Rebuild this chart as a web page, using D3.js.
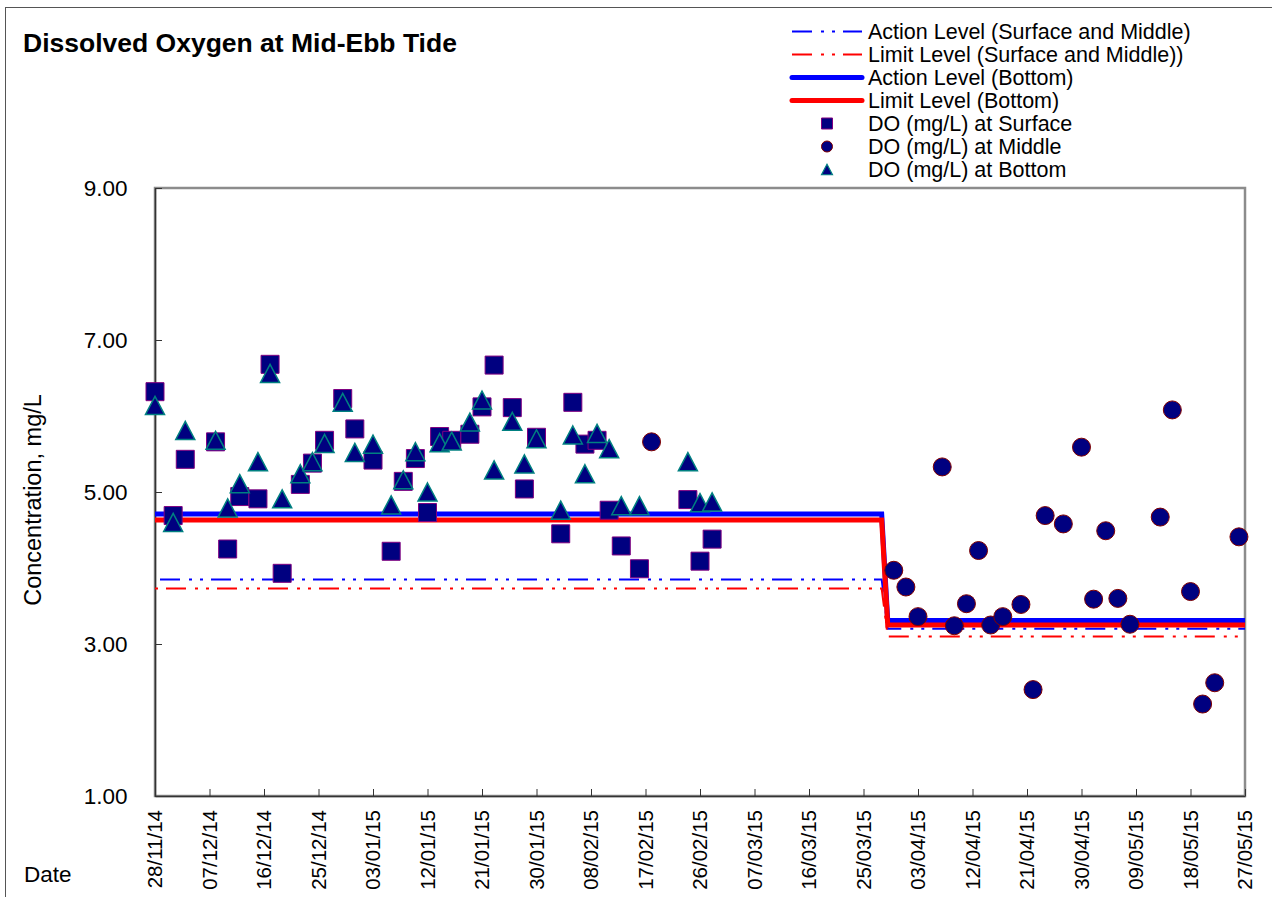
<!DOCTYPE html>
<html>
<head>
<meta charset="utf-8">
<script src="https://cdn.jsdelivr.net/npm/d3@7"></script>
<style>
  html, body { margin: 0; padding: 0; background: #fff; }
  svg { display: block; font-family: "Liberation Sans", Arial, sans-serif; }
</style>
</head>
<body>
<svg id="chart" width="1272" height="897"></svg>
<script>
// ---------------- DATA ----------------
const sbDates = ["2014-11-28","2014-12-01","2014-12-03","2014-12-08","2014-12-10","2014-12-12","2014-12-15","2014-12-17","2014-12-19","2014-12-22","2014-12-24","2014-12-26","2014-12-29","2014-12-31","2015-01-03","2015-01-06","2015-01-08","2015-01-10","2015-01-12","2015-01-14","2015-01-16","2015-01-19","2015-01-21","2015-01-23","2015-01-26","2015-01-28","2015-01-30","2015-02-03","2015-02-05","2015-02-07","2015-02-09","2015-02-11","2015-02-13","2015-02-16","2015-02-24","2015-02-26","2015-02-28"];
const surfaceValues = [6.32,4.69,5.43,5.66,4.25,4.94,4.91,6.68,3.93,5.10,5.38,5.68,6.23,5.83,5.42,4.22,5.14,5.44,4.73,5.73,5.68,5.76,6.12,6.67,6.11,5.04,5.72,4.45,6.18,5.63,5.68,4.76,4.29,3.99,4.90,4.09,4.38];
const bottomValues  = [6.14,4.60,5.81,5.68,4.79,5.11,5.40,6.56,4.91,5.24,5.40,5.64,6.18,5.52,5.63,4.83,5.16,5.53,5.00,5.65,5.67,5.92,6.21,5.29,5.93,5.37,5.70,4.76,5.75,5.24,5.77,5.57,4.82,4.82,5.40,4.86,4.87];
const middleDates = ["2015-02-18","2015-03-30","2015-04-01","2015-04-03","2015-04-07","2015-04-09","2015-04-11","2015-04-13","2015-04-15","2015-04-17","2015-04-20","2015-04-22","2015-04-24","2015-04-27","2015-04-30","2015-05-02","2015-05-04","2015-05-06","2015-05-08","2015-05-13","2015-05-15","2015-05-18","2015-05-20","2015-05-22","2015-05-26"];
const middleValues = [5.66,3.97,3.75,3.36,5.33,3.24,3.53,4.23,3.25,3.36,3.52,2.40,4.69,4.58,5.59,3.59,4.49,3.60,3.26,4.67,6.08,3.69,2.21,2.49,4.41];

const levelDates = ["2014-11-28","2015-03-28","2015-03-29","2015-05-27"];
const actionSM = [3.85,3.85,3.20,3.20];
const limitSM  = [3.73,3.73,3.10,3.10];
const actionB  = [4.71,4.71,3.31,3.31];
const limitB   = [4.63,4.63,3.25,3.25];

const yTicks = [1,3,5,7,9];
const xStart = "2014-11-28", xEnd = "2015-05-27", xTickStepDays = 9;

const legendLabels = ["Action Level (Surface and Middle)","Limit Level (Surface and Middle))","Action Level (Bottom)","Limit Level (Bottom)","DO (mg/L) at Surface","DO (mg/L) at Middle","DO (mg/L) at Bottom"];

// ---------------- CHART ----------------
const parse = d3.timeParse("%Y-%m-%d");
const fmt = d3.timeFormat("%d/%m/%y");
const svg = d3.select("#chart");
const L = 155, R = 1245, T = 188, B = 796;

const x = d3.scaleTime().domain([parse(xStart), parse(xEnd)]).range([L, R]);
const y = d3.scaleLinear().domain([1, 9]).range([B, T]);

// outer frame
svg.append("rect").attr("x", 5.5).attr("y", 7.5).attr("width", 1400).attr("height", 1000)
  .attr("fill", "#fff").attr("stroke", "#555").attr("stroke-width", 1);

// title
svg.append("text").attr("x", 23).attr("y", 52).attr("font-size", 26.5).attr("font-weight", "bold")
  .text("Dissolved Oxygen at Mid-Ebb Tide");

// plot frame
svg.append("rect").attr("x", L).attr("y", T).attr("width", R - L).attr("height", B - T)
  .attr("fill", "none").attr("stroke", "#8c8c8c").attr("stroke-width", 2.5);

// axes (ticks inward)
const xTickVals = d3.range(0, 21).map(i => d3.timeDay.offset(parse(xStart), i * xTickStepDays));
const xAxis = d3.axisBottom(x).tickValues(xTickVals).tickSizeInner(-7).tickSizeOuter(0).tickFormat("");
const gx = svg.append("g").attr("transform", `translate(0,${B})`).call(xAxis);
gx.select(".domain").attr("stroke", "#333").attr("stroke-width", 1.5);
gx.selectAll(".tick line").attr("stroke", "#333");

const yAxis = d3.axisLeft(y).tickValues(yTicks).tickSizeInner(-7).tickSizeOuter(0).tickFormat("");
const gy = svg.append("g").attr("transform", `translate(${L},0)`).call(yAxis);
gy.select(".domain").attr("stroke", "#333").attr("stroke-width", 1.5);
gy.selectAll(".tick line").attr("stroke", "#333");

// tick labels
svg.append("g").selectAll("text").data(yTicks).join("text")
  .attr("x", 127.5).attr("y", d => y(d)).attr("dy", "0.36em")
  .attr("text-anchor", "end").attr("font-size", 22.5).text(d => d.toFixed(2));

svg.append("g").selectAll("text").data(xTickVals).join("text")
  .attr("transform", d => `translate(${x(d)},${810}) rotate(-90)`)
  .attr("dy", "0.36em").attr("text-anchor", "end").attr("font-size", 20.5).text(d => fmt(d));

// axis titles
svg.append("text").attr("transform", `translate(41,500) rotate(-90)`)
  .attr("text-anchor", "middle").attr("font-size", 23.5).text("Concentration, mg/L");
svg.append("text").attr("x", 24).attr("y", 882).attr("font-size", 22.5).text("Date");

// level lines
const lineGen = d3.line().x(d => x(d[0])).y(d => y(d[1]));
const levelPts = arr => levelDates.map((d, i) => [parse(d), arr[i]]);
const dashPat = "20,9,3,8,3,8";
svg.append("path").attr("d", lineGen(levelPts(actionSM))).attr("fill", "none")
  .attr("stroke", "#0000ff").attr("stroke-width", 2).attr("stroke-dasharray", dashPat).attr("stroke-dashoffset", 46);
svg.append("path").attr("d", lineGen(levelPts(limitSM))).attr("fill", "none")
  .attr("stroke", "#ff0000").attr("stroke-width", 2).attr("stroke-dasharray", dashPat).attr("stroke-dashoffset", 40);
svg.append("path").attr("d", lineGen(levelPts(actionB))).attr("fill", "none")
  .attr("stroke", "#0000ff").attr("stroke-width", 5);
svg.append("path").attr("d", lineGen(levelPts(limitB))).attr("fill", "none")
  .attr("stroke", "#ff0000").attr("stroke-width", 5);

// markers
const navy = "#000080";
const sq = d3.symbol().type(d3.symbolSquare).size(18 * 18);
const tri = s => {
  const h = s * 0.95, w = s;
  return `M0,${-h/2}L${w/2},${h/2}L${-w/2},${h/2}Z`;
};
svg.append("g").selectAll("path").data(sbDates.map((d, i) => [parse(d), surfaceValues[i]])).join("path")
  .attr("d", sq).attr("transform", d => `translate(${x(d[0])},${y(d[1])})`)
  .attr("fill", navy).attr("stroke", "#800080").attr("stroke-width", 1);
svg.append("g").selectAll("circle").data(middleDates.map((d, i) => [parse(d), middleValues[i]])).join("circle")
  .attr("cx", d => x(d[0])).attr("cy", d => y(d[1])).attr("r", 9)
  .attr("fill", navy).attr("stroke", "#800000").attr("stroke-width", 1);
svg.append("g").selectAll("path").data(sbDates.map((d, i) => [parse(d), bottomValues[i]])).join("path")
  .attr("d", tri(19)).attr("transform", d => `translate(${x(d[0])},${y(d[1])})`)
  .attr("fill", navy).attr("stroke", "#008080").attr("stroke-width", 1.5);

// legend
const lg = svg.append("g");
const rowY = i => 31.5 + i * 23;
const lineStyles = [
  {c: "#0000ff", w: 2, dash: dashPat},
  {c: "#ff0000", w: 2, dash: dashPat},
  {c: "#0000ff", w: 5, dash: null},
  {c: "#ff0000", w: 5, dash: null}
];
lineStyles.forEach((s, i) => {
  const l = lg.append("line").attr("x1", 792).attr("x2", 862).attr("y1", rowY(i)).attr("y2", rowY(i))
    .attr("stroke", s.c).attr("stroke-width", s.w).attr("stroke-linecap", s.dash ? "butt" : "round");
  if (s.dash) l.attr("stroke-dasharray", s.dash).attr("stroke-dashoffset", 0);
});
lg.append("path").attr("d", d3.symbol().type(d3.symbolSquare).size(11 * 11))
  .attr("transform", `translate(827,${rowY(4)})`).attr("fill", navy).attr("stroke", "#800080");
lg.append("circle").attr("cx", 827).attr("cy", rowY(5)).attr("r", 5.5).attr("fill", navy).attr("stroke", "#800000");
lg.append("path").attr("d", tri(11)).attr("transform", `translate(827,${rowY(6)})`)
  .attr("fill", navy).attr("stroke", "#008080").attr("stroke-width", 1.2);
lg.selectAll("text").data(legendLabels).join("text")
  .attr("x", 868).attr("y", (d, i) => rowY(i) + 7).attr("font-size", 21.5).text(d => d);
</script>
</body>
</html>
